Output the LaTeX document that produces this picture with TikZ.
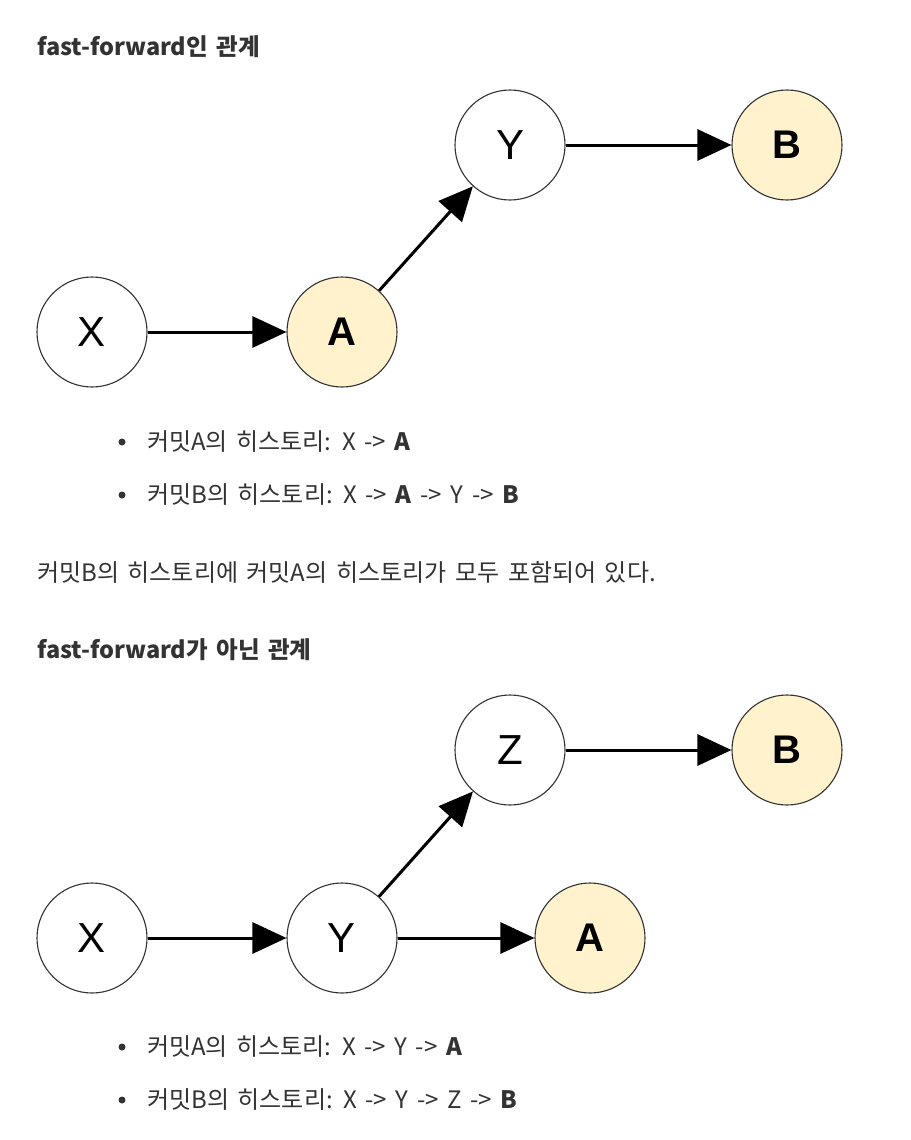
\documentclass[tikz,border=0pt]{standalone}
\usepackage{fontspec}
\setmainfont{Noto Sans CJK KR}[WordSpace=1.6]
\newfontfamily\nodefont{Liberation Sans}
\usetikzlibrary{arrows.meta}
\definecolor{txt}{HTML}{333333}
\definecolor{yel}{HTML}{FFF2CC}
\definecolor{ring}{HTML}{333333}
\tikzset{
  cnode/.style={circle, draw=ring, line width=1.1pt, minimum size=110pt, inner sep=0pt, fill=white, font=\nodefont\fontsize{42}{46}\selectfont, text=black},
  ynode/.style={cnode, fill=yel, font=\nodefont\bfseries\fontsize{40}{46}\selectfont},
  arr/.style={line width=3pt, -{Triangle[length=34pt,width=31pt]}},
  title/.style={anchor=west, inner sep=0pt, text=txt, font=\bfseries\fontsize{23.5}{27}\selectfont},
  body/.style={anchor=west, inner sep=0pt, text=txt, font=\fontsize{24}{28}\selectfont},
  bul/.style={circle, fill=txt, minimum size=7pt, inner sep=0pt}
}
\begin{document}
\begin{tikzpicture}[x=1pt,y=-1pt]
\useasboundingbox[fill=white] (0,0) rectangle (910,1140);
% top diagram
\node[title] (t1) at (37,47) {fast-forward인 관계};
\node[cnode] (x1) at (92,332) {X};
\node[ynode] (a1) at (342,332) {A};
\node[cnode] (y1) at (510,145) {Y};
\node[ynode] (b1) at (787,145) {B};
\draw[arr] (x1) -- (a1);
\draw[arr] (a1) -- (y1);
\draw[arr] (y1) -- (b1);
\node[bul] (d1) at (122,442) {};
\node[body] (l1) at (147,442) {커밋A의 히스토리: X -> \textbf{A}};
\node[bul] (d2) at (122,495) {};
\node[body] (l2) at (147,495) {커밋B의 히스토리: X -> \textbf{A} -> Y -> \textbf{B}};
\node[body] (p1) at (37,572) {커밋B의 히스토리에 커밋A의 히스토리가 모두 포함되어 있다.};
% bottom diagram
\node[title] (t2) at (37,650) {fast-forward가 아닌 관계};
\node[cnode] (x2) at (92,938) {X};
\node[cnode] (y2) at (342,938) {Y};
\node[ynode] (a2) at (590,938) {A};
\node[cnode] (z2) at (510,750) {Z};
\node[ynode] (b2) at (787,750) {B};
\draw[arr] (x2) -- (y2);
\draw[arr] (y2) -- (a2);
\draw[arr] (y2) -- (z2);
\draw[arr] (z2) -- (b2);
\node[bul] (d3) at (122,1047) {};
\node[body] (l3) at (147,1047) {커밋A의 히스토리: X -> Y -> \textbf{A}};
\node[bul] (d4) at (122,1100) {};
\node[body] (l4) at (147,1100) {커밋B의 히스토리: X -> Y -> Z -> \textbf{B}};
\end{tikzpicture}
\end{document}
